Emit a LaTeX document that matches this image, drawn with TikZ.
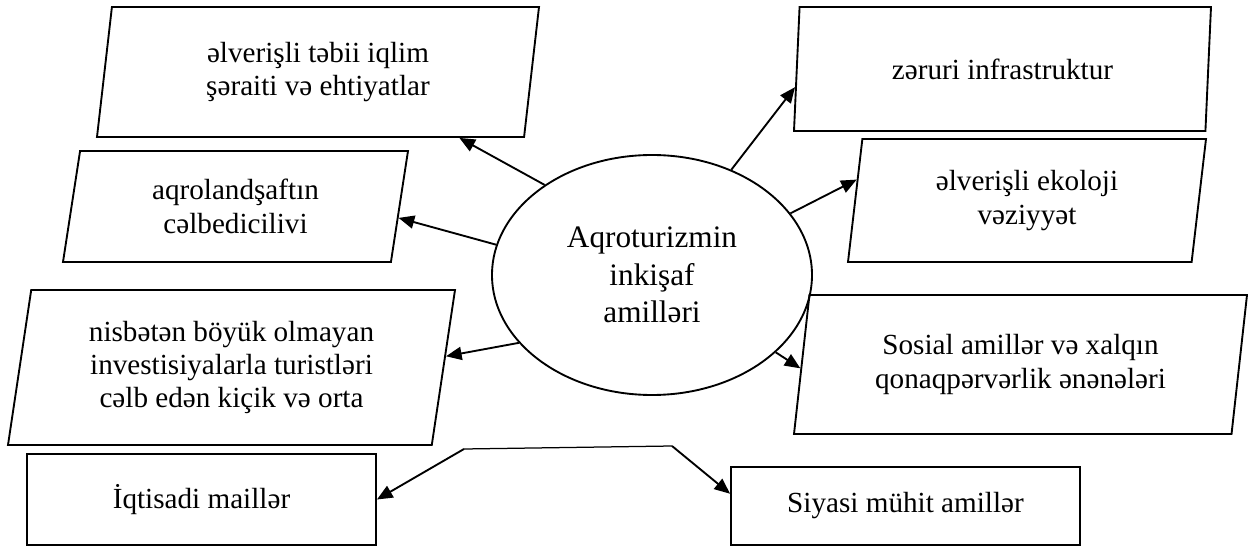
\documentclass[tikz,border=0pt]{standalone}
\usepackage{fontspec}
\setmainfont{Liberation Serif}
\usetikzlibrary{arrows.meta,shapes.geometric}

\begin{document}
\begin{tikzpicture}[x=0.48pt, y=0.48pt,
  every node/.style={font=\fontsize{14pt}{16pt}\selectfont},
  par/.style={draw, trapezium, trapezium stretches body, inner sep=0pt,
              line width=0.9pt, align=center},
  rct/.style={draw, rectangle, inner sep=0pt, line width=0.9pt, align=center},
  hub/.style={draw, ellipse, inner sep=0pt, line width=0.9pt, align=center,
              minimum width=320*0.48pt, minimum height=240*0.48pt,
              font=\fontsize{15pt}{18pt}\selectfont},
  ar/.style={-{Triangle[length=7.5pt,width=6.3pt]}, line width=0.9pt}]

\useasboundingbox (0,0) rectangle (1248,546);

\node[hub] (E) at (652,271) {Aqroturizmin\\inkişaf\\amilləri};

% left column
\node[par, trapezium left angle=76, trapezium right angle=104,
      minimum width=442*0.48pt, minimum height=130*0.48pt]
      (B1) at (318,474) {əlverişli təbii iqlim\\şəraiti və ehtiyatlar};
\node[par, trapezium left angle=72.5, trapezium right angle=107.5,
      minimum width=345*0.48pt, minimum height=111*0.48pt]
      (B2) at (235.5,339.5) {aqrolandşaftın\\cəlbedicilivi};
\node[par, trapezium left angle=76, trapezium right angle=104,
      minimum width=447*0.48pt, minimum height=155*0.48pt]
      (B3) at (231.5,178.5) {nisbətən böyük olmayan\\investisiyalarla turistləri\\cəlb edən kiçik və orta};
\node[rct, minimum width=349*0.48pt, minimum height=91*0.48pt]
      (R1) at (201.5,46.5) {İqtisadi maillər};

% right column
\node[par, trapezium left angle=75, trapezium right angle=105,
      minimum width=417*0.48pt, minimum height=124*0.48pt]
      (B4) at (1002.5,477) {zəruri infrastruktur};
\node[par, trapezium left angle=76.5, trapezium right angle=103.5,
      minimum width=358*0.48pt, minimum height=123*0.48pt]
      (B5) at (1027,345.5) {əlverişli ekoloji\\vəziyyət};
\node[par, trapezium left angle=75.5, trapezium right angle=104.5,
      minimum width=453*0.48pt, minimum height=139*0.48pt]
      (B6) at (1020.5,181.5) {Sosial amillər və xalqın\\qonaqpərvərlik ənənələri};
\node[rct, minimum width=349*0.48pt, minimum height=78*0.48pt]
      (R2) at (905.5,40) {Siyasi mühit amillər};

\foreach \a/\b in {E.140/B1.335.6, E.169.7/B2.356.8, E.207.8/B3.3.9,
                   E.53.6/B4.185.7, E.24.2/B5.173.1, E.328/B6.181.8}
  \draw[ar] (\a) -- (\b);

% bottom bracket
\coordinate (k1) at (464,97);
\coordinate (k2) at (672,100);
\draw[line width=0.6pt] (k1) -- (k2);
\draw[ar] (k1) -- (R1.east);
\draw[ar] (k2) -- (R2.176);
\end{tikzpicture}
\end{document}
